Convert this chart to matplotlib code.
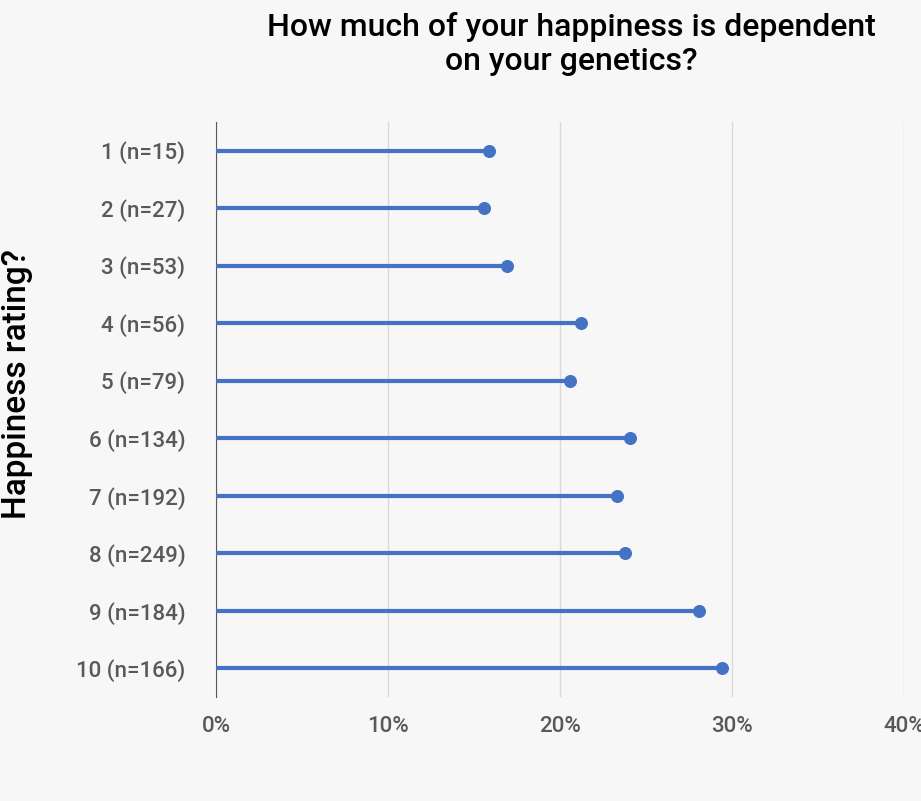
import matplotlib
matplotlib.use("Agg")
import matplotlib.pyplot as plt
from matplotlib.ticker import PercentFormatter

labels = ["1 (n=15)", "2 (n=27)", "3 (n=53)", "4 (n=56)", "5 (n=79)",
          "6 (n=134)", "7 (n=192)", "8 (n=249)", "9 (n=184)", "10 (n=166)"]
values = [15.9, 15.6, 16.9, 21.2, 20.6, 24.1, 23.3, 23.8, 28.1, 29.4]

plt.rcParams["font.family"] = "Roboto"
bg = "#f7f7f7"
col = "#4472c4"

fig = plt.figure(figsize=(9.21, 8.01), dpi=100, facecolor=bg)
ax = fig.add_axes([0.2345, 0.13, 0.747, 0.718], facecolor=bg)

ypos = list(range(len(labels)))
ax.hlines(ypos, 0, values, color=col, linewidth=3, zorder=3)
ax.scatter(values, ypos, color=col, s=70, zorder=4)

ax.set_xlim(0, 40)
ax.set_ylim(len(labels) - 0.5, -0.5)
ax.set_xticks([0, 10, 20, 30, 40])
ax.xaxis.set_major_formatter(PercentFormatter(decimals=0))
ax.set_yticks(ypos)
ax.set_yticklabels(labels)
ax.tick_params(axis="both", length=0, labelsize=16, colors="#595959", pad=14)
ax.tick_params(axis="y", pad=22)
for t in ax.get_xticklabels() + ax.get_yticklabels():
    t.set_fontweight("medium")
ax.grid(axis="x", color="#d9d9d9", linewidth=1)
ax.set_axisbelow(True)
for s in ["top", "right", "bottom"]:
    ax.spines[s].set_visible(False)
ax.spines["left"].set_color("#595959")

fig.text(0.62, 0.985, "How much of your happiness is dependent\non your genetics?",
         ha="center", va="top", fontsize=23, fontweight="medium", color="black",
         linespacing=1.2)
fig.text(0.018, 0.52, "Happiness rating?", rotation=90, ha="center", va="center",
         fontsize=24, fontweight="medium", color="black")

fig.savefig("out.png", dpi=100, facecolor=bg)
